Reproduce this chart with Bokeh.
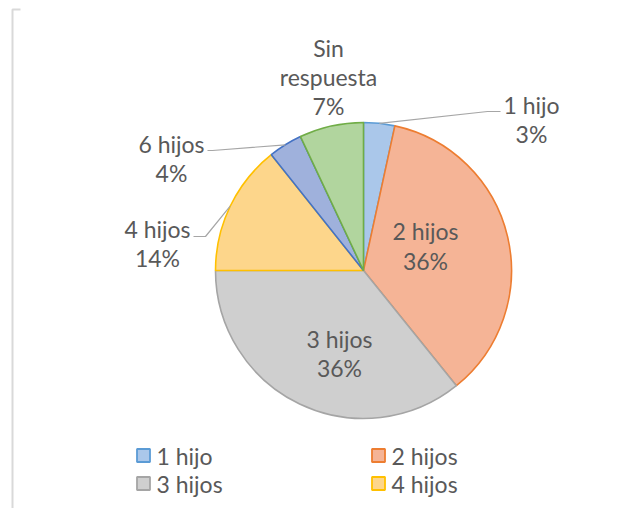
import math
from bokeh.plotting import figure
from bokeh.models import Range1d
from bokeh.core.properties import value
from bokeh.embed import file_html
from bokeh.resources import INLINE

# ---- data ----
categories = ["1 hijo", "2 hijos", "3 hijos", "4 hijos", "6 hijos", "Sin respuesta"]
percents = [3.4, 35.8, 35.8, 14.3, 3.7, 7.0]
legend_items = ["1 hijo", "2 hijos", "3 hijos", "4 hijos"]

# ---- styles ----
fills = ["#aac7ea", "#f5b496", "#cfcfcf", "#fdd68b", "#9fb1dc", "#b1d59e"]
borders = ["#5b9bd5", "#ed7d31", "#a5a5a5", "#ffc000", "#4472c4", "#70ad47"]
TXT = "#595959"
FONT = value("Lato")
FS = "23px"

W, H = 618, 508
p = figure(width=W, height=H, output_backend="svg", toolbar_location=None,
           x_range=Range1d(0, W), y_range=Range1d(0, H), min_border=0)
p.axis.visible = False
p.grid.visible = False
p.outline_line_color = None
p.background_fill_color = "white"
p.border_fill_color = "white"


def Y(sy):
    return 508 - sy


CX, CY, R = 363, Y(270), 148

# pie slices (clockwise from 12 o'clock)
total = sum(percents)
starts, ends, mids = [], [], []
acc = 0.0
for v in percents:
    a0 = acc / total * 2 * math.pi
    acc += v
    a1 = acc / total * 2 * math.pi
    starts.append(math.pi / 2 - a0)
    ends.append(math.pi / 2 - a1)
    mids.append((a0 + a1) / 2)

p.wedge(x=[CX] * len(percents), y=[CY] * len(percents), radius=R,
        start_angle=starts, end_angle=ends, direction="clock",
        fill_color=fills, line_color=borders, line_width=1.6)

pct_text = ["%d%%" % round(v / total * 100) for v in percents]


def edge_point(i, r=R):
    a = mids[i]
    return CX + r * math.sin(a), CY + r * math.cos(a)


# label layout
label_layout = {
    0: dict(x=531, ys=[104, 133], elbow=[(487, 111), (500, 111)]),
    1: dict(x=425, ys=[230, 260], elbow=None),
    2: dict(x=339, ys=[338, 367], elbow=None),
    3: dict(x=157, ys=[228, 257], elbow=[(205, 236), (193, 236)]),
    4: dict(x=171, ys=[143, 172], elbow=[(212, 150), (207, 150)]),
    5: dict(x=328, ys=[47, 76, 105], elbow=None),
}

for i, lay in label_layout.items():
    name = categories[i]
    lines = name.split(" ") if len(lay["ys"]) == 3 else [name]
    lines = lines + [pct_text[i]]
    p.text(x=[lay["x"]] * len(lines), y=[Y(s) for s in lay["ys"]], text=lines,
           text_font=FONT, text_font_size=FS, text_color=TXT,
           text_align="center", text_baseline="middle")
    if lay["elbow"]:
        ex, ey = edge_point(i)
        xs = [ex] + [pt[0] for pt in lay["elbow"]]
        ys = [ey] + [Y(pt[1]) for pt in lay["elbow"]]
        p.line(xs, ys, line_color="#a6a6a6", line_width=1.2)

# legend (manual, two columns)
leg_pos = [(143, 455), (378, 455), (143, 483), (378, 483)]
for k, name in enumerate(legend_items):
    i = categories.index(name)
    sx, sy = leg_pos[k]
    p.rect(x=[sx], y=[Y(sy)], width=13, height=13, fill_color=fills[i],
           line_color=borders[i], line_width=1.8)
    p.text(x=[sx + 13], y=[Y(sy)], text=[name], text_font=FONT, text_font_size=FS,
           text_color=TXT, text_align="left", text_baseline="middle")

# chart-area frame fragment on the left
p.line([20, 12, 12], [Y(9), Y(9), Y(508)], line_color="#d9d9d9", line_width=2)

open("out.html", "w").write(file_html(p, INLINE))
